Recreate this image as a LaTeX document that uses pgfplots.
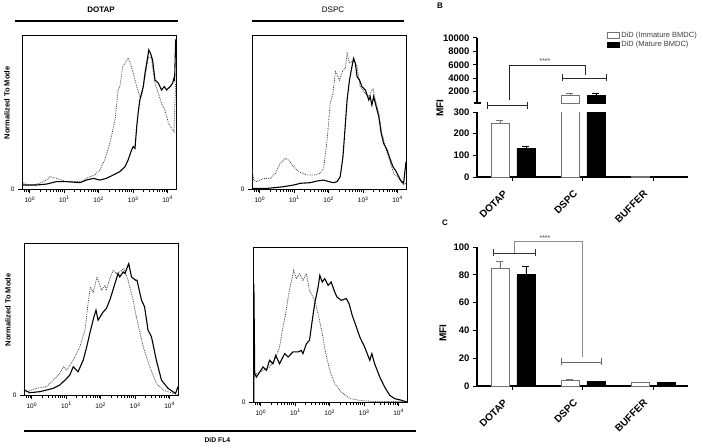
\documentclass[border=0pt]{standalone}
\usepackage{pgfplots}
\pgfplotsset{compat=1.18}
\usepackage{fontspec}
\setmainfont{Liberation Sans}
\usetikzlibrary{arrows.meta}

\newcommand\dec[1]{10\raisebox{0.8ex}{\fontsize{5}{5}\selectfont #1}}

\pgfplotsset{
 hist/.style={
  scale only axis, width=154pt, height=154pt,
  xmin=-0.22, xmax=4.25, ymin=0, ymax=100,
  xtick={0,1,2,3,4},
  xticklabels={\dec{0},\dec{1},\dec{2},\dec{3},\dec{4}},
  minor xtick={-0.155,-0.097,-0.046,0.301,0.477,0.602,0.699,0.778,0.845,0.903,0.954,1.301,1.477,1.602,1.699,1.778,1.845,1.903,1.954,2.301,2.477,2.602,2.699,2.778,2.845,2.903,2.954,3.301,3.477,3.602,3.699,3.778,3.845,3.903,3.954},
  ytick={0}, yticklabels={0},
  tick align=outside, tick pos=left,
  major tick length=4pt, minor tick length=2.5pt,
  axis line style={line width=0.7pt},
  every tick/.style={black, line width=0.6pt},
  tick label style={font=\fontsize{6.5}{7}\selectfont},
 },
 solidc/.style={black, line width=1.1pt, no marks},
 dotc/.style={black!75, line width=0.8pt, densely dotted, no marks},
 bars/.style={
  scale only axis, width=211pt,
  xmin=-0.514, xmax=2.5,
  ybar=8pt, bar width=18pt,
  axis lines=left, axis line style={-, line width=1.1pt},
  tick align=outside, major tick length=4pt,
  every tick/.style={black, line width=1pt},
  scaled y ticks=false,
  yticklabel style={font=\fontsize{9.5}{10}\bfseries},
  xticklabel style={xshift=-10pt, yshift=-7pt, rotate=45, anchor=north east, font=\fontsize{10}{11}\bfseries, inner sep=1pt},
  /pgf/number format/assume math mode=true,
  /pgf/number format/1000 sep={},
  clip mode=individual,
 },
 wbar/.style={fill=white, draw=black!55, line width=0.9pt},
 bbar/.style={fill=black, draw=black, line width=0.9pt},
}

\begin{document}
\begin{tikzpicture}
\path[use as bounding box] (0pt,0pt) rectangle (703pt,-447pt);

% ---- titles and annotations of panel A ----
\node[font=\fontsize{8}{9}\bfseries] at (101pt,-10pt) {DOTAP};
\draw[line width=1.8pt] (15pt,-21pt) -- (178pt,-21pt);
\node[font=\fontsize{8}{9}\selectfont] at (333pt,-10pt) {DSPC};
\draw[line width=1.8pt] (252pt,-21pt) -- (404pt,-21pt);
\node[rotate=90, font=\fontsize{7.5}{8}\bfseries] at (7pt,-103pt) {Normalized To Mode};
\node[rotate=90, font=\fontsize{7.5}{8}\bfseries] at (8pt,-310pt) {Normalized To Mode};
\draw[line width=1.8pt] (24pt,-431pt) -- (416pt,-431pt);
\node[anchor=west, font=\fontsize{6.8}{8}\bfseries] at (201pt,-440.5pt) {DiD FL4};

% ---- top left: DOTAP ----
\begin{axis}[hist, at={(22pt,-189pt)}, anchor=south west]
\addplot[dotc] coordinates {(-0.22,4.8) (-0.09,2.6) (0.10,2.6) (0.29,3.7) (0.49,5.8) (0.59,8.0) (0.78,6.9) (1.07,4.8) (1.36,4.8) (1.55,5.2) (1.65,6.9) (1.75,8.0) (1.89,9.1) (2.04,12.3) (2.18,18.8) (2.33,29.7) (2.48,44.8) (2.57,64.3) (2.62,66.5) (2.70,79.4) (2.77,81.6) (2.86,84.8) (2.91,82.7) (3.01,75.1) (3.11,66.5) (3.20,60.0) (3.25,60.0) (3.35,72.9) (3.45,85.9) (3.54,84.8) (3.64,68.6) (3.74,62.1) (3.83,55.6) (3.93,51.3) (4.03,42.6) (4.12,39.4) (4.19,37.2) (4.24,68.6)};
\addplot[solidc] coordinates {(-0.22,2.6) (0.20,2.6) (0.49,3.2) (0.78,4.8) (1.07,4.8) (1.46,4.1) (1.65,5.8) (1.85,6.9) (2.04,5.8) (2.23,6.9) (2.43,9.1) (2.62,11.3) (2.77,14.5) (2.86,18.8) (2.96,25.3) (3.01,27.5) (3.06,26.4) (3.11,40.5) (3.15,49.1) (3.20,57.8) (3.30,66.5) (3.35,75.1) (3.43,85.9) (3.46,90.3) (3.51,88.1) (3.57,83.8) (3.64,70.8) (3.74,68.6) (3.83,64.3) (3.91,66.5) (3.98,64.3) (4.08,66.5) (4.15,68.6) (4.19,71.9) (4.21,70.8) (4.24,96.8) (4.25,96.8)};
\end{axis}

% ---- top middle: DSPC ----
\begin{axis}[hist, at={(252pt,-189pt)}, anchor=south west]
\addplot[dotc] coordinates {(-0.22,13.4) (-0.17,5.8) (-0.08,4.8) (0.12,6.9) (0.31,6.9) (0.46,10.2) (0.60,16.7) (0.75,19.9) (0.84,18.8) (0.99,14.5) (1.13,11.3) (1.38,9.1) (1.62,9.1) (1.76,10.2) (1.86,13.4) (1.96,31.8) (2.05,55.6) (2.13,62.1) (2.20,76.2) (2.32,70.8) (2.42,77.3) (2.49,78.4) (2.54,88.1) (2.61,81.6) (2.73,83.8) (2.83,79.4) (2.92,66.5) (3.07,62.1) (3.17,60.0) (3.29,65.4) (3.36,57.8) (3.46,49.1) (3.55,36.1) (3.68,25.3) (3.80,16.7) (3.89,10.2) (4.04,6.9) (4.18,2.6) (4.25,3.7)};
\addplot[solidc] coordinates {(-0.22,0.4) (0.22,0.4) (0.70,1.5) (0.99,2.6) (1.18,3.7) (1.47,4.1) (1.67,5.2) (1.86,5.8) (2.01,4.8) (2.15,4.1) (2.25,4.8) (2.34,8.0) (2.42,21.0) (2.47,36.1) (2.54,57.8) (2.61,70.8) (2.68,79.4) (2.73,84.8) (2.78,81.6) (2.83,72.9) (2.90,70.8) (2.97,66.5) (3.07,64.3) (3.17,57.8) (3.21,60.0) (3.26,54.5) (3.31,60.0) (3.41,51.3) (3.46,47.0) (3.53,36.1) (3.60,29.7) (3.70,25.3) (3.80,18.8) (3.87,14.5) (3.94,12.3) (3.99,10.2) (4.09,5.8) (4.13,4.8) (4.18,3.7) (4.25,17.7)};
\end{axis}

% ---- bottom left ----
\begin{axis}[hist, at={(24pt,-395pt)}, anchor=south west, height=152pt]
\addplot[dotc] coordinates {(-0.22,4.4) (-0.14,2.2) (0.15,4.4) (0.44,5.5) (0.63,9.8) (0.82,14.2) (0.92,18.6) (1.02,16.4) (1.21,23.0) (1.40,31.7) (1.55,42.7) (1.64,60.2) (1.71,71.1) (1.79,67.8) (1.90,77.7) (2.03,68.9) (2.13,72.2) (2.17,68.9) (2.27,76.6) (2.37,82.1) (2.46,79.9) (2.56,81.0) (2.68,83.2) (2.80,75.5) (2.95,62.4) (3.04,51.4) (3.24,31.7) (3.43,18.6) (3.62,7.7) (3.82,3.3) (4.10,1.1) (4.25,0)};
\addplot[solidc] coordinates {(-0.22,3.3) (-0.05,1.5) (0.24,2.2) (0.44,3.3) (0.63,4.4) (0.82,6.6) (0.97,9.8) (1.11,13.1) (1.21,18.6) (1.35,15.3) (1.50,23.0) (1.60,31.7) (1.69,40.5) (1.81,51.4) (1.87,55.8) (1.93,49.2) (2.08,54.7) (2.17,56.9) (2.27,62.4) (2.42,73.3) (2.51,79.9) (2.56,77.7) (2.66,81.0) (2.71,79.9) (2.78,84.2) (2.82,86.4) (2.90,77.7) (3.02,75.5) (3.06,75.5) (3.19,62.4) (3.28,58.0) (3.38,42.7) (3.48,38.3) (3.62,23.0) (3.77,9.8) (3.96,4.4) (4.10,2.2) (4.18,1.1) (4.25,5.5)};
\end{axis}

% ---- bottom middle ----
\begin{axis}[hist, at={(253pt,-402pt)}, anchor=south west, height=155pt]
\addplot[dotc] coordinates {(-0.22,14.0) (-0.12,18.3) (0.07,20.4) (0.26,22.6) (0.41,26.9) (0.55,35.5) (0.65,48.4) (0.73,57.0) (0.80,67.7) (0.86,74.2) (0.96,84.9) (1.04,79.6) (1.13,82.8) (1.23,78.5) (1.33,82.8) (1.42,72.0) (1.57,65.6) (1.67,57.0) (1.79,44.1) (1.89,31.2) (2.01,20.4) (2.15,11.8) (2.34,6.5) (2.59,2.2) (2.88,1.1) (3.26,0.3) (4.25,0.3)};
\addplot[solidc] coordinates {(-0.195,0) (-0.195,76.3) (-0.17,18.3) (-0.12,16.1) (0.07,22.6) (0.17,20.4) (0.26,26.9) (0.36,24.7) (0.44,30.1) (0.55,24.7) (0.70,31.2) (0.80,29.0) (0.94,32.3) (1.09,32.3) (1.18,33.3) (1.23,31.2) (1.33,37.6) (1.42,39.8) (1.50,52.7) (1.57,63.4) (1.67,74.2) (1.72,81.7) (1.79,77.4) (1.86,79.6) (1.96,75.3) (2.05,77.4) (2.15,71.0) (2.22,67.7) (2.34,65.6) (2.49,66.7) (2.57,63.4) (2.66,55.9) (2.78,48.4) (2.88,41.9) (3.02,35.5) (3.17,26.9) (3.23,31.2) (3.31,24.7) (3.46,16.1) (3.60,9.7) (3.75,4.3) (3.89,2.2) (4.09,1.1) (4.25,0)};
\end{axis}

% ---- panel B ----
\node[font=\fontsize{8}{9}\bfseries] at (440pt,-6pt) {B};
\node[rotate=90, font=\fontsize{10}{11}\bfseries] at (440pt,-108pt) {MFI};
\draw[line width=1.1pt] (473.5pt,-103pt) -- (480.5pt,-103pt);
% lower part
\begin{axis}[bars, at={(477pt,-177pt)}, anchor=south west, height=65pt,
  ymin=0, ymax=300, ytick={0,100,200,300},
  xtick={0,1,2}, xticklabels={DOTAP,DSPC,BUFFER}]
\addplot[wbar, error bars/.cd, y dir=plus, y explicit, error bar style={black!55, line width=0.9pt}, error mark options={rotate=90, mark size=3.5pt, black!55, line width=0.9pt}]
  coordinates {(0,248) +- (0,12) (1,1500) +- (0,200) (2,3) +- (0,1)};
\addplot[bbar, error bars/.cd, y dir=plus, y explicit, error bar style={black, line width=0.9pt}, error mark options={rotate=90, mark size=3.5pt, black, line width=0.9pt}]
  coordinates {(0,132) +- (0,8) (1,1500) +- (0,250) (2,3) +- (0,1)};
\draw[black!85, line width=0.9pt, {Bar[width=7pt]}-{Bar[width=7pt]}] (axis cs:-0.371,332) -- (axis cs:0.214,332);
\end{axis}
% upper part (values above the break)
\begin{axis}[bars, at={(477pt,-103pt)}, anchor=south west, height=65pt,
  ymin=300, ymax=10000, ytick={2000,4000,6000,8000,10000},
  axis x line=none, xtick=\empty,
  legend style={at={(0.60,1.16)}, anchor=north west, draw=none, fill=none,
    font=\fontsize{7.5}{8}\selectfont, text=black!75, row sep=-1.5pt},
  legend cell align=left,
  legend image code/.code={\draw[line width=0.6pt,#1] (0pt,-2.7pt) rectangle (12pt,2.7pt);}]
\addplot[wbar, error bars/.cd, y dir=plus, y explicit, error bar style={black!55, line width=0.9pt}, error mark options={rotate=90, mark size=3.5pt, black!55, line width=0.9pt}]
  coordinates {(1,1500) +- (0,200)};
\addlegendentry{DiD (Immature BMDC)}
\addplot[bbar, error bars/.cd, y dir=plus, y explicit, error bar style={black, line width=0.9pt}, error mark options={rotate=90, mark size=3.5pt, black, line width=0.9pt}]
  coordinates {(1,1500) +- (0,250)};
\addlegendentry{DiD (Mature BMDC)}
\draw[black!85, line width=0.9pt] (axis cs:-0.057,748) -- (axis cs:-0.057,5971) -- (axis cs:1.03,5971) -- (axis cs:1.03,4478);
\draw[black!85, line width=0.9pt, {Bar[width=7pt]}-{Bar[width=7pt]}] (axis cs:0.70,4031) -- (axis cs:1.343,4031);
\node[font=\fontsize{7}{8}\selectfont, text=black!75] at (axis cs:0.457,6568) {****};
\end{axis}

% ---- panel C ----
\node[font=\fontsize{8}{9}\bfseries] at (445pt,-223pt) {C};
\node[rotate=90, font=\fontsize{10}{11}\bfseries] at (443pt,-333pt) {MFI};
\begin{axis}[bars, at={(477pt,-386pt)}, anchor=south west, height=139pt,
  ymin=0, ymax=100, ytick={0,20,40,60,80,100},
  xtick={0,1,2}, xticklabels={DOTAP,DSPC,BUFFER}]
\addplot[wbar, error bars/.cd, y dir=plus, y explicit, error bar style={black!55, line width=0.9pt}, error mark options={rotate=90, mark size=3.5pt, black!55, line width=0.9pt}]
  coordinates {(0,84.5) +- (0,5.2) (1,4.2) +- (0,0.8) (2,2.3) +- (0,0.4)};
\addplot[bbar, error bars/.cd, y dir=plus, y explicit, error bar style={black, line width=0.9pt}, error mark options={rotate=90, mark size=3.5pt, black, line width=0.9pt}]
  coordinates {(0,80) +- (0,5.8) (1,3.2) +- (0,0.4) (2,2.3) +- (0,0.5)};
\draw[black!80, line width=0.9pt, {Bar[width=7pt]}-{Bar[width=7pt]}] (axis cs:-0.286,95.7) -- (axis cs:0.329,95.7);
\draw[black!45, line width=0.9pt] (axis cs:0.021,95.7) -- (axis cs:0.021,104.3) -- (axis cs:0.986,104.3) -- (axis cs:0.986,20.9);
\draw[black!60, line width=0.9pt, {Bar[width=7pt]}-{Bar[width=7pt]}] (axis cs:0.686,17.3) -- (axis cs:1.271,17.3);
\node[font=\fontsize{7}{8}\selectfont, text=black!75] at (axis cs:0.457,106.3) {****};
\end{axis}
\end{tikzpicture}
\end{document}
